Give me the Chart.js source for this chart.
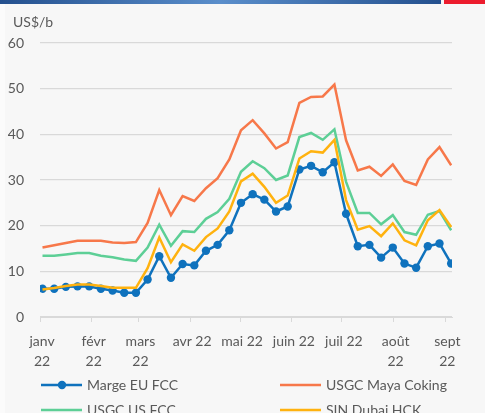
<!DOCTYPE html>
<html><head><meta charset="utf-8">
<script src="https://cdn.jsdelivr.net/npm/chart.js@4"></script>
<style>
html,body{margin:0;padding:0;background:#f7f7f7;}
#wrap{position:relative;width:485px;height:413px;overflow:hidden;background:#f7f7f7;}
#strip{position:absolute;left:0;top:0;width:5px;height:413px;background:#fbfbfb;}
#bar{position:absolute;left:0;top:0;width:441px;height:4px;background:linear-gradient(to right,#24508e,#5a8ecb 50%,#24508e);}
#red{position:absolute;left:444px;top:0;width:41px;height:4px;background:#ec1c2d;}
canvas{position:absolute;left:0;top:0;}
</style></head><body>
<div id="wrap"><div id="strip"></div><canvas id="c" width="485" height="413"></canvas><div id="bar"></div><div id="red"></div></div>
<script>
const weekDates = ["2022-01-02","2022-01-09","2022-01-16","2022-01-23","2022-01-30",
  "2022-02-06","2022-02-13","2022-02-20","2022-02-27",
  "2022-03-06","2022-03-13","2022-03-20","2022-03-27",
  "2022-04-03","2022-04-10","2022-04-17","2022-04-24",
  "2022-05-01","2022-05-08","2022-05-15","2022-05-22","2022-05-29",
  "2022-06-05","2022-06-12","2022-06-19","2022-06-26",
  "2022-07-03","2022-07-10","2022-07-17","2022-07-24","2022-07-31",
  "2022-08-07","2022-08-14","2022-08-21","2022-08-28",
  "2022-09-04"];
const margeEuFcc = [6.2,6.2,6.6,6.7,6.7,6.2,5.8,5.3,5.3,8.2,13.3,8.6,11.6,11.3,14.5,15.8,19.0,25.0,26.9,25.7,23.1,24.2,32.3,33.1,31.7,33.9,22.6,15.5,15.8,13.0,15.2,11.7,10.8,15.5,16.1,11.7];
const usgcMayaCoking = [15.2,15.7,16.2,16.7,16.7,16.7,16.3,16.2,16.4,20.6,27.8,22.3,26.5,25.4,28.2,30.4,34.5,40.9,43.1,40.2,36.9,38.3,46.9,48.2,48.3,50.9,38.7,32.1,32.9,30.9,33.4,29.8,28.9,34.5,37.2,33.2];
const usgcUsFcc = [13.4,13.4,13.7,14.0,14.0,13.4,13.1,12.6,12.3,15.2,20.2,15.6,18.8,18.6,21.5,23.0,25.9,31.8,34.1,32.6,30.0,31.0,39.4,40.3,38.8,41.1,29.6,22.8,22.8,20.3,22.3,18.6,18.0,22.4,23.2,19.0];
const sinDubaiHck = [6.0,6.35,6.8,7.1,7.1,6.8,6.4,6.4,6.4,10.7,17.4,12.0,15.9,14.5,17.5,19.4,23.1,29.7,31.4,28.5,25.0,26.6,34.7,36.3,36.0,38.8,25.6,19.1,19.9,17.7,20.5,16.8,15.7,21.2,23.4,19.7];
const seriesNames = ["Marge EU FCC","USGC Maya Coking","USGC US FCC","SIN Dubai HCK"];
const monthStarts = ["2022-01-01","2022-02-01","2022-03-01","2022-04-01","2022-05-01","2022-06-01","2022-07-01","2022-08-01","2022-09-01"];
const monthLabels = [["janv","22"],["févr","22"],["mars","22"],"avr 22","mai 22","juin 22","juil 22",["août","22"],["sept","22"]];
const yTitle = "US$/b";
const axisEnd = "2022-09-05";

const FONT = "Lato, 'Open Sans', sans-serif";
const TXT = "#595959";
const base = Date.UTC(2022,0,1);
const dayOf = s => { const p = s.split("-").map(Number); return (Date.UTC(p[0],p[1]-1,p[2]) - base)/86400000; };
const xs = weekDates.map(d => dayOf(d) + 0.5);
const tickVals = monthStarts.map(dayOf);
const pts = arr => arr.map((v,i) => ({x: xs[i], y: v}));

const colors = ["#0f72bd","#f7784a","#5dcf96","#ffb20f"];
const seriesData = [margeEuFcc, usgcMayaCoking, usgcUsFcc, sinDubaiHck];

const datasets = seriesData.map((arr,i) => ({
  label: seriesNames[i],
  data: pts(arr),
  borderColor: colors[i],
  backgroundColor: colors[i],
  borderWidth: 2.5,
  tension: 0,
  pointRadius: i === 0 ? 4.2 : 0,
  pointBorderWidth: 0,
  pointBackgroundColor: colors[i],
  order: 3 - i
}));

const legendCols = [41, 280];
const legendRows = [385, 410];
const extras = {
  id: 'extras',
  afterDraw(chart) {
    const ctx = chart.ctx;
    ctx.save();
    ctx.font = "14px " + FONT;
    ctx.fillStyle = TXT;
    ctx.textBaseline = "middle";
    ctx.textAlign = "left";
    ctx.fillText(yTitle, 13, 22);
    chart.data.datasets.forEach((ds, i) => {
      const x = legendCols[i % 2], y = legendRows[Math.floor(i / 2)];
      ctx.strokeStyle = ds.borderColor;
      ctx.lineWidth = 2.5;
      ctx.beginPath(); ctx.moveTo(x, y); ctx.lineTo(x + 41, y); ctx.stroke();
      if (ds.pointRadius > 0) {
        ctx.fillStyle = ds.borderColor;
        ctx.beginPath(); ctx.arc(x + 21, y, ds.pointRadius, 0, Math.PI * 2); ctx.fill();
      }
      ctx.fillStyle = TXT;
      ctx.fillText(ds.label, x + 46, y);
    });
    ctx.restore();
  }
};

new Chart(document.getElementById('c'), {
  type: 'line',
  data: { datasets },
  options: {
    responsive: false,
    animation: false,
    layout: { padding: { top: 43, right: 33, left: 0, bottom: 0 } },
    plugins: { legend: { display: false }, tooltip: { enabled: false } },
    scales: {
      x: {
        type: 'linear',
        min: 0,
        max: dayOf(axisEnd),
        afterBuildTicks: s => { s.ticks = tickVals.map(v => ({ value: v })); },
        afterFit: s => { s.height = 96; },
        ticks: {
          callback: (v, i) => monthLabels[i],
          autoSkip: false, maxRotation: 0, minRotation: 0,
          color: TXT, font: { family: FONT, size: 14, lineHeight: 1.45 },
          padding: 9, labelOffset: 2
        },
        grid: { drawOnChartArea: false, drawTicks: true, tickLength: 5, color: '#d9d9d9', lineWidth: 1 },
        border: { display: true, color: '#d9d9d9', width: 1 }
      },
      y: {
        min: 0, max: 60,
        afterFit: s => { s.width = 40; },
        ticks: { stepSize: 10, color: TXT, font: { family: FONT, size: 14 }, padding: 16 },
        grid: { color: '#d9d9d9', lineWidth: 1.2, drawTicks: false },
        border: { display: false }
      }
    }
  },
  plugins: [extras]
});
</script>
</body></html>
